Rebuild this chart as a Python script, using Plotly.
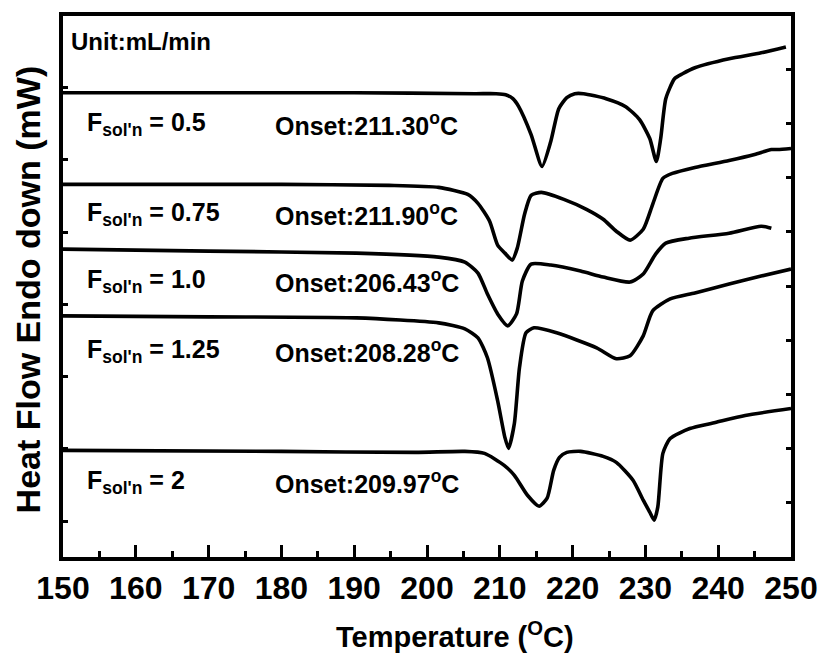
import plotly.graph_objects as go

# ---- data (temperature in degC, heat flow in arbitrary units, endo down) ----
t_05 = [150.0, 190.0, 206.6, 209.5, 210.8, 211.8, 212.6, 214.3, 215.8, 217.0, 218.1, 219.2,
        220.3, 221.5, 224.6, 227.3, 229.2, 230.6, 231.5, 232.1, 232.8, 234.0, 235.1, 236.8,
        241.5, 245.9, 249.3]
h_05 = [466, 466, 465, 465, 464, 460, 452, 424, 392, 417, 450, 461,
        465, 465, 460, 452, 439, 420, 397, 420, 460, 480, 485, 491,
        500, 506, 512]

t_075 = [150.0, 180.0, 194.8, 201.6, 205.6, 207.0, 208.6, 209.7, 210.7, 211.7, 212.4, 213.4,
         214.3, 215.7, 218.8, 221.9, 224.2, 226.0, 227.9, 229.7, 231.0, 232.4, 233.7, 236.8,
         241.5, 245.0, 247.3, 248.2, 250.0]
h_075 = [374, 374, 373, 371, 364, 355, 337, 313, 305, 298, 310, 344,
         363, 366, 359, 349, 339, 327, 318, 329, 354, 380, 385, 391,
         398, 404, 409, 409, 410]

t_10 = [150.0, 170.0, 190.3, 201.6, 205.2, 207.0, 208.3, 209.7, 211.1, 212.3, 213.1, 214.3,
        217.0, 221.1, 224.2, 227.9, 229.7, 231.4, 232.8, 236.0, 241.5, 245.9, 247.3]
h_10 = [309, 307, 305, 301, 296, 285, 264, 244, 232, 244, 277, 294,
        293, 287, 281, 276, 284, 304, 315, 320, 325, 332, 330]

t_125 = [150.0, 170.0, 190.3, 201.6, 205.2, 207.0, 208.3, 209.7, 210.7, 211.2, 212.0, 212.7,
         213.6, 214.7, 217.8, 223.3, 226.0, 227.9, 229.7, 231.0, 233.4, 236.8, 241.5, 245.9, 250.0]
h_125 = [242, 241, 240, 235, 229, 220, 200, 157, 120, 109, 134, 190,
         225, 230, 225, 210, 199, 202, 222, 247, 259, 265, 274, 282, 289]

t_20 = [150.0, 180.0, 198.4, 205.2, 207.9, 210.6, 212.0, 213.8, 215.4, 216.5, 217.4, 218.2,
        219.2, 221.1, 224.2, 226.0, 228.3, 229.7, 230.6, 231.2, 231.7, 232.4, 233.4, 236.1,
        239.6, 243.7, 250.0]
h_20 = [107, 106, 105, 106, 104, 92, 82, 62, 51, 59, 87, 100,
        105, 106, 101, 95, 77, 57, 45, 37, 50, 104, 119, 129,
        135, 142, 149]

flow_labels = ["0.5", "0.75", "1.0", "1.25", "2"]
onset_labels = ["211.30", "211.90", "206.43", "208.28", "209.97"]
label_levels = [435, 344, 277, 207, 75]   # heat-flow level of each text row

x_ticks = [150, 160, 170, 180, 190, 200, 210, 220, 230, 240, 250]

series = [(t_05, h_05), (t_075, h_075), (t_10, h_10), (t_125, h_125), (t_20, h_20)]

fig = go.Figure()
for t, h in series:
    fig.add_trace(go.Scatter(x=t, y=h, mode="lines",
                             line=dict(color="black", width=3.6, shape="spline", smoothing=0.6),
                             showlegend=False, hoverinfo="skip"))
# invisible trace to carry the right-hand axis ticks
fig.add_trace(go.Scatter(x=[150], y=[0], yaxis="y2", mode="markers",
                         marker=dict(opacity=0), showlegend=False, hoverinfo="skip"))

FONT = "Liberation Sans, Arial, sans-serif"

fig.update_layout(
    width=830, height=657,
    margin=dict(l=63, r=30, t=14, b=100),
    plot_bgcolor="white", paper_bgcolor="white",
    xaxis=dict(range=[150, 250], tickmode="array", tickvals=x_ticks,
               ticktext=[str(v) for v in x_ticks],
               ticks="inside", ticklen=12, tickwidth=3, tickcolor="black",
               minor=dict(dtick=5, tick0=150, ticks="inside", ticklen=6, tickwidth=3, tickcolor="black"),
               showline=True, linewidth=3.5, linecolor="black", mirror=True,
               showgrid=False, zeroline=False,
               tickfont=dict(family=FONT, size=32, color="black", weight="bold")),
    yaxis=dict(range=[0, 543], tickmode="linear", tick0=36, dtick=72.5,
               ticks="inside", ticklen=5, tickwidth=3, tickcolor="black",
               showticklabels=False, showline=True, linewidth=3.5, linecolor="black",
               mirror=True, showgrid=False, zeroline=False),
    yaxis2=dict(range=[0, 543], overlaying="y", side="right", tickmode="linear",
                tick0=0, dtick=54.4, ticks="inside", ticklen=5, tickwidth=3,
                tickcolor="black", showticklabels=False, showline=False,
                showgrid=False, zeroline=False),
)

ann = []
ann.append(dict(x=150.8, y=517, xref="x", yref="y", text="<b>Unit:mL/min</b>",
                xanchor="left", yanchor="middle", showarrow=False,
                font=dict(family=FONT, size=24, color="black")))
for fl, on, lv in zip(flow_labels, onset_labels, label_levels):
    ann.append(dict(x=153.0, y=lv, xref="x", yref="y",
                    text="<b>F<sub>sol'n</sub> = " + fl + "</b>",
                    xanchor="left", yanchor="middle", showarrow=False,
                    font=dict(family=FONT, size=25, color="black")))
    ann.append(dict(x=178.8, y=lv, xref="x", yref="y",
                    text="<b>Onset:" + on + "<sup>o</sup>C</b>",
                    xanchor="left", yanchor="middle", showarrow=False,
                    font=dict(family=FONT, size=25, color="black")))
ann.append(dict(x=0.5387, y=-0.1805, xref="paper", yref="paper",
                text="<b>Temperature (<sup>O</sup>C)</b>", xanchor="center", yanchor="bottom",
                showarrow=False, font=dict(family=FONT, size=29, color="black")))
ann.append(dict(x=-0.0475, y=0.4954, xref="paper", yref="paper",
                text="<b>Heat Flow Endo down (mW)</b>", textangle=-90,
                xanchor="center", yanchor="middle",
                showarrow=False, font=dict(family=FONT, size=34, color="black")))
fig.update_layout(annotations=ann)

fig.write_html("out.html")
